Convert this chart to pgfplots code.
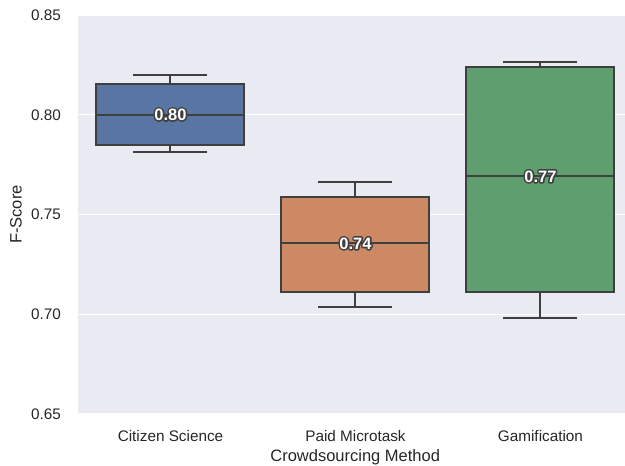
\documentclass[border=0pt]{standalone}
\usepackage{fontspec}
\setmainfont{Liberation Sans}
\usepackage{pgfplots}
\usepackage{pgfplotstable}
\pgfplotsset{compat=1.18}
\usepgfplotslibrary{statistics}

\definecolor{bgc}{HTML}{EAEAF2}
\definecolor{edge}{HTML}{3F3F3F}
\definecolor{txt}{HTML}{262626}
\definecolor{cblue}{HTML}{5875A4}
\definecolor{corange}{HTML}{CC8963}
\definecolor{cgreen}{HTML}{5F9E6E}

% glyph outlines only (PDF text render mode 1), dark stroke
\newcommand{\strokeon}{\special{pdf:literal direct 1 Tr 3.2 w 1 j 0.247 0.247 0.247 RG}}
\newcommand{\strokeoff}{\special{pdf:literal direct 0 Tr}}

% five-number summaries, one row per crowdsourcing method
\pgfplotstableread{
pos lw     lq     med    uq     uw
0   0.7815 0.7850 0.8001 0.8152 0.8197
1   0.7038 0.7112 0.7355 0.7587 0.7662
2   0.6981 0.7113 0.7691 0.8237 0.8264
}\boxdata

% fetch one cell of the summary table into a macro
\newcommand{\getcell}[3]{\pgfplotstablegetelem{#1}{#2}\of\boxdata\expandafter\let\csname#3\endcsname\pgfplotsretval}
\newcommand{\getrow}[2]{%
  \getcell{#1}{lw}{lw#2}\getcell{#1}{lq}{lq#2}\getcell{#1}{med}{med#2}%
  \getcell{#1}{uq}{uq#2}\getcell{#1}{uw}{uw#2}}
\getrow{0}{A}\getrow{1}{B}\getrow{2}{C}

\begin{document}
\begin{tikzpicture}
\path[use as bounding box] (-78pt,-52pt) rectangle (547pt,414pt);
\begin{axis}[
  at={(0pt,0pt)}, anchor=south west,
  scale only axis, width=547pt, height=399pt,
  xmin=-0.5, xmax=2.457,
  ymin=0.65, ymax=0.85,
  xtick={0,1,2},
  xticklabels={Citizen Science, Paid Microtask, Gamification},
  ytick={0.65,0.70,0.75,0.80,0.85},
  yticklabel style={/pgf/number format/fixed, /pgf/number format/fixed zerofill,
    /pgf/number format/precision=2, anchor=east, inner sep=0pt, xshift=-17pt},
  xticklabel style={anchor=north, inner sep=0pt, yshift=-16pt},
  /pgf/number format/assume math mode=true,
  tick label style={font=\fontsize{15.3}{18}\selectfont, text=txt},
  label style={font=\fontsize{16.5}{20}\selectfont, text=txt},
  major tick length=0pt,
  axis line style={draw=none},
  axis background/.style={fill=bgc},
  ymajorgrids, grid style={white, line width=1.3pt},
  xlabel={Crowdsourcing Method},
  ylabel={F-Score},
  xlabel style={at={(axis description cs:0.5068,0)}, anchor=north, inner sep=0pt, yshift=-35pt},
  ylabel style={at={(axis description cs:0,0.5)}, anchor=center, inner sep=0pt, yshift=62pt},
  boxplot/draw direction=y,
  boxplot/box extend=0.8,
  boxplot/whisker extend=0.4,
  boxplot/every box/.style={draw=edge, line width=2pt},
  boxplot/every whisker/.style={draw=edge, line width=2pt},
  boxplot/every median/.style={draw=edge, line width=2pt},
  clip=false,
]
\addplot[boxplot prepared={draw position=0, lower whisker=\lwA, lower quartile=\lqA,
    median=\medA, upper quartile=\uqA, upper whisker=\uwA},
  fill=cblue, draw=edge, line width=2pt] coordinates {};
\addplot[boxplot prepared={draw position=1, lower whisker=\lwB, lower quartile=\lqB,
    median=\medB, upper quartile=\uqB, upper whisker=\uwB},
  fill=corange, draw=edge, line width=2pt] coordinates {};
\addplot[boxplot prepared={draw position=2, lower whisker=\lwC, lower quartile=\lqC,
    median=\medC, upper quartile=\uqC, upper whisker=\uwC},
  fill=cgreen, draw=edge, line width=2pt] coordinates {};

% median labels: dark stroked glyphs underneath, white text on top
\pgfplotsset{medlabel/.style={draw=none, mark=none,
  point meta=explicit,
  nodes near coords style={anchor=center, inner sep=0pt,
    font=\fontsize{16.5}{19}\selectfont\bfseries,
    /pgf/number format/fixed, /pgf/number format/fixed zerofill,
    /pgf/number format/precision=2, /pgf/number format/assume math mode=true}}}
\addplot[medlabel, nodes near coords={\strokeon\pgfmathprintnumber{\pgfplotspointmeta}\strokeoff},
  nodes near coords style={text=edge}]
  table[x=pos, y=med, meta=med] {\boxdata};
\addplot[medlabel, nodes near coords, nodes near coords style={text=white}]
  table[x=pos, y=med, meta=med] {\boxdata};
\end{axis}
\end{tikzpicture}
\end{document}
